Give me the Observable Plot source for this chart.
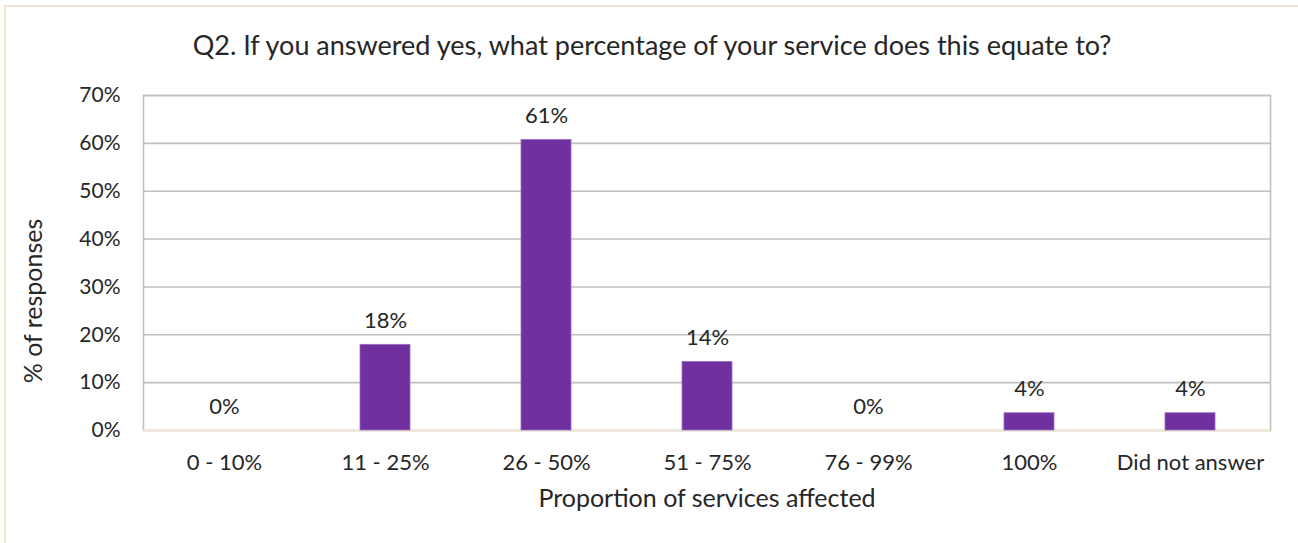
<!DOCTYPE html>
<html>
<head>
<meta charset="utf-8">
<script src="https://cdn.jsdelivr.net/npm/d3@7"></script>
<script src="https://cdn.jsdelivr.net/npm/@observablehq/plot@0.6"></script>
<style>
  html, body { margin: 0; padding: 0; background: #fff; }
  #wrap { position: relative; width: 1298px; height: 543px; overflow: hidden; font-family: Lato, sans-serif; color: #262626; }
  #border { position: absolute; left: 4px; top: 5px; width: 1310px; height: 560px; border: 2px solid #EFE7CF; box-sizing: border-box; pointer-events: none; }
  #title { height: 68px; display: flex; align-items: flex-end; justify-content: center; box-sizing: border-box; font-size: 27px; line-height: 1; padding-bottom: 10px; }
  #title span { position: relative; left: 3px; }
</style>
</head>
<body>
<div id="wrap">
  <div id="title"><span>Q2. If you answered yes, what percentage of your service does this equate to?</span></div>
  <div id="chart"></div>
  <div id="border"></div>
</div>
<script>
const categories = ["0 - 10%", "11 - 25%", "26 - 50%", "51 - 75%", "76 - 99%", "100%", "Did not answer"];
const values = [0, 17.9, 60.7, 14.3, 0, 3.6, 3.6];
const valueLabels = ["0%", "18%", "61%", "14%", "0%", "4%", "4%"];
const yTicks = [0, 10, 20, 30, 40, 50, 60, 70];
const yLabel = "% of responses";
const xLabel = "Proportion of services affected";

const data = categories.map((c, i) => ({category: c, value: values[i], label: valueLabels[i]}));

const chart = Plot.plot({
  width: 1298,
  height: 475,
  marginLeft: 143,
  marginRight: 28,
  marginTop: 27,
  marginBottom: 113,
  style: {fontFamily: "Lato, sans-serif", fontSize: "22px", color: "#262626", background: "transparent", overflow: "visible"},
  x: {domain: categories, paddingInner: 0.69, paddingOuter: 0.345},
  y: {domain: [0, 70]},
  marks: [
    Plot.ruleY(yTicks.filter(d => d > 0), {stroke: "#C0C0C0", strokeWidth: 1.6}),
    Plot.frame({stroke: "#C0C0C0", strokeWidth: 1.6}),
    Plot.ruleY([0], {stroke: "#EEE8D2", strokeWidth: 2}),
    Plot.barY(data, {x: "category", y: "value", fill: "#7030A0", stroke: "#9A6BC0", strokeWidth: 0.8}),
    Plot.text(data, {x: "category", y: "value", text: "label", dy: -24, lineAnchor: "middle", fill: "#262626", fontSize: 22}),
    Plot.axisY({ticks: yTicks, tickFormat: d => d + "%", tickSize: 0, tickPadding: 23, label: null, fontSize: 21}),
    Plot.axisX({tickSize: 0, tickPadding: 24, label: null, fontSize: 22}),
    Plot.text([yLabel], {frameAnchor: "left", dx: -110, dy: 38, rotate: -90, text: d => d, fontSize: 25, textAnchor: "middle", lineAnchor: "middle"}),
    Plot.text([xLabel], {frameAnchor: "bottom", dy: 68, text: d => d, fontSize: 25, lineAnchor: "middle"})
  ]
});
document.getElementById("chart").appendChild(chart);
</script>
</body>
</html>
